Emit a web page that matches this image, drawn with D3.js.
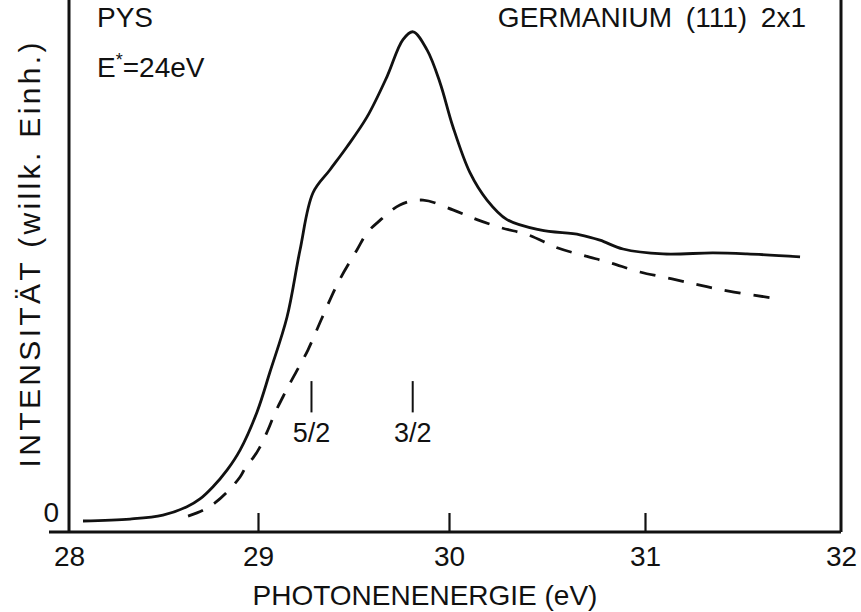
<!DOCTYPE html>
<html>
<head>
<meta charset="utf-8">
<script src="https://cdn.jsdelivr.net/npm/d3@7"></script>
<style>
  html, body { margin: 0; padding: 0; background: #fff; }
  svg { display: block; }
  text { font-family: "Liberation Sans", Arial, sans-serif; fill: #111; }
</style>
</head>
<body>
<svg id="chart" width="861" height="612"></svg>
<script>
// Photon-energy axis ticks (eV) and intensity tick
const energyTicks = [28, 29, 30, 31, 32];
const intensityTicks = [0];

// Measured spectrum (solid curve)
const solidEnergy = [28.074, 28.323, 28.497, 28.624, 28.693, 28.762, 28.836, 28.905, 28.995, 29.063,
  29.152, 29.220, 29.288, 29.377, 29.466, 29.571, 29.675, 29.759, 29.812, 29.885,
  29.953, 30.020, 30.107, 30.194, 30.296, 30.464, 30.668, 30.770, 30.888, 31.092,
  31.347, 31.520, 31.791];
const solidIntensity = [0.0, 0.4, 1.2, 2.9, 4.5, 7.0, 10.4, 14.5, 22.3, 30.5,
  41.7, 55.4, 67.1, 71.8, 76.5, 82.6, 90.8, 98.4, 100.0, 96.3,
  89.6, 80.6, 71.2, 65.6, 61.6, 59.5, 58.5, 57.4, 55.6, 54.6,
  54.8, 54.6, 54.0];

// Comparison spectrum (dashed curve)
const dashedEnergy = [28.630, 28.709, 28.772, 28.836, 28.905, 28.942, 28.974, 29.010, 29.052, 29.089,
  29.131, 29.168, 29.220, 29.262, 29.335, 29.419, 29.518, 29.571, 29.628, 29.743,
  29.864, 30.020, 30.143, 30.270, 30.403, 30.556, 30.694, 30.821, 30.974, 31.138,
  31.291, 31.454, 31.648];
const dashedIntensity = [1.0, 2.2, 3.7, 5.9, 9.0, 11.5, 12.9, 15.1, 18.6, 22.1,
  25.4, 28.2, 31.9, 35.0, 41.5, 48.7, 55.4, 58.9, 61.1, 64.6,
  65.6, 63.6, 61.6, 59.9, 58.5, 55.8, 54.2, 52.8, 50.9, 49.5,
  48.1, 46.8, 45.6];

// Marked transitions
const markerEnergy = [29.28, 29.81];
const markerLabels = ["5/2", "3/2"];
const markerSpan = [22.2, 28.6];

const svg = d3.select("#chart");

const x = d3.scaleLinear().domain(energyTicks).range([69, 258, 449, 645, 841]);
const y = d3.scaleLinear().domain([0, 106.5]).range([521, 0]);
const axisY = 532;

const line = d3.line()
  .x(d => x(d[0]))
  .y(d => y(d[1]))
  .curve(d3.curveCatmullRom.alpha(0.5));

const solid = d3.zip(solidEnergy, solidIntensity);
const dashed = d3.zip(dashedEnergy, dashedIntensity);

svg.append("path")
  .datum(solid)
  .attr("d", line)
  .attr("fill", "none")
  .attr("stroke", "#111")
  .attr("stroke-width", 2.8)
  .attr("stroke-linejoin", "round");

svg.append("path")
  .datum(dashed)
  .attr("d", line)
  .attr("fill", "none")
  .attr("stroke", "#111")
  .attr("stroke-width", 2.8)
  .attr("stroke-dasharray", "16,13");

// Frame: left and right verticals, bottom axis line
const frame = svg.append("g").attr("stroke", "#111").attr("stroke-width", 3);
frame.append("line").attr("x1", x(28)).attr("x2", x(28)).attr("y1", 0).attr("y2", axisY);
frame.append("line").attr("x1", x(32)).attr("x2", x(32)).attr("y1", 0).attr("y2", axisY);

// Bottom axis with inward ticks
const xAxis = d3.axisBottom(x)
  .tickValues(energyTicks)
  .tickSizeInner(-19)
  .tickSizeOuter(0)
  .tickPadding(14)
  .tickFormat(d3.format("d"));

const gx = svg.append("g")
  .attr("transform", `translate(0,${axisY})`)
  .call(xAxis);
gx.select(".domain")
  .attr("d", `M49,0H${x(32)}`)
  .attr("stroke", "#111")
  .attr("stroke-width", 3);
gx.selectAll(".tick line")
  .attr("stroke", "#111")
  .attr("stroke-width", 2.2)
  .attr("display", d => (d === 28 || d === 32) ? "none" : null);
gx.selectAll(".tick text")
  .attr("font-size", 28)
  .attr("dy", "0.71em")
  .attr("fill", "#111")
  .style("font-family", "'Liberation Sans', Arial, sans-serif");

// Intensity zero label
const gy = svg.append("g")
  .attr("transform", `translate(${x(28)},0)`)
  .call(d3.axisLeft(y).tickValues(intensityTicks).tickSize(0).tickPadding(10));
gy.select(".domain").remove();
gy.selectAll(".tick text")
  .attr("font-size", 28)
  .attr("dy", "0.0em")
  .attr("fill", "#111")
  .style("font-family", "'Liberation Sans', Arial, sans-serif");

// Transition markers
const markers = svg.append("g");
markerEnergy.forEach((e, i) => {
  markers.append("line")
    .attr("x1", x(e)).attr("x2", x(e))
    .attr("y1", y(markerSpan[0])).attr("y2", y(markerSpan[1]))
    .attr("stroke", "#111").attr("stroke-width", 2);
  markers.append("text")
    .attr("x", x(e)).attr("y", 442)
    .attr("text-anchor", "middle")
    .attr("font-size", 27)
    .text(markerLabels[i]);
});

// Annotations
svg.append("text").attr("x", 97).attr("y", 27).attr("font-size", 28).text("PYS");
const eText = svg.append("text").attr("x", 97).attr("y", 77).attr("font-size", 28);
eText.append("tspan").text("E");
eText.append("tspan").attr("dy", -11).attr("font-size", 18).text("*");
eText.append("tspan").attr("dy", 11).text("=24eV");

svg.append("text").attr("x", 806).attr("y", 27).attr("text-anchor", "end")
  .attr("font-size", 28).attr("word-spacing", 6).text("GERMANIUM (111) 2x1");

// Axis titles
svg.append("text").attr("x", 425).attr("y", 605).attr("text-anchor", "middle")
  .attr("font-size", 28).text("PHOTONENENERGIE (eV)");

svg.append("text")
  .attr("transform", "translate(40,255) rotate(-90)")
  .attr("text-anchor", "middle")
  .attr("font-size", 30)
  .attr("textLength", 425)
  .attr("lengthAdjust", "spacing")
  .text("INTENSITÄT (willk. Einh.)");
</script>
</body>
</html>
